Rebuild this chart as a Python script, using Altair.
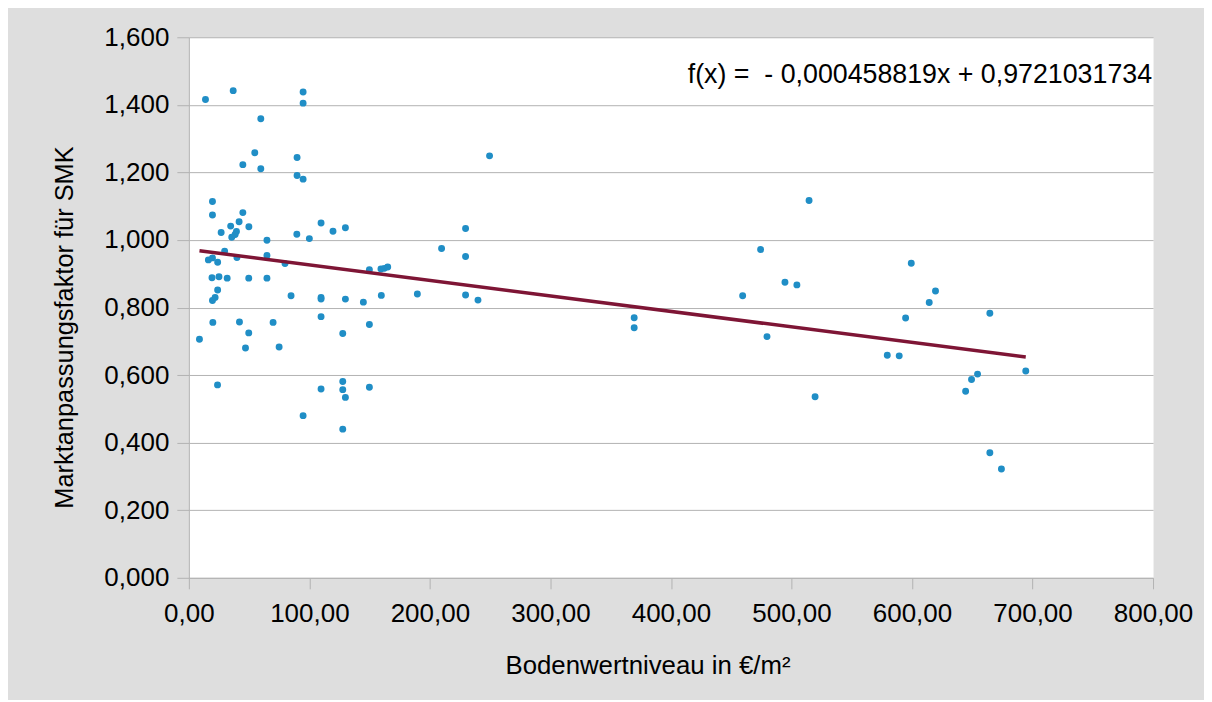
import altair as alt
import pandas as pd

# Bodenwertniveau (EUR/m²) and Marktanpassungsfaktor
bodenwert = [
    13.8, 36.8, 94.8, 94.8, 59.7, 54.7, 44.8, 59.7, 89.8, 89.8, 94.8, 249.5,
    19.6, 19.6, 44.8, 41.7, 34.7, 49.8, 26.8, 39.5, 38.4, 35.6, 64.8, 89.6,
    100.0, 109.7, 119.6, 129.9, 209.7, 229.6, 229.6, 29.7, 64.8, 39.9, 16.2,
    19.6, 23.9, 79.8, 149.8, 159.4, 162.2, 165.0, 19.2, 25.0, 31.8, 49.7,
    64.8, 23.9, 21.8, 19.6, 84.8, 109.7, 109.7, 129.9, 144.8, 159.7, 189.6,
    229.6, 239.9, 19.9, 42.0, 69.9, 109.7, 149.8, 49.7, 127.7, 8.8, 47.0,
    74.9, 23.8, 109.7, 127.7, 127.7, 129.9, 149.8, 94.8, 127.7,
    369.5, 369.5, 514.6, 474.4, 494.6, 504.5, 459.5, 479.7, 519.6, 599.4,
    619.5, 614.3, 594.7, 664.6, 579.5, 589.4, 694.4, 654.4, 649.4, 644.5,
    664.6, 674.2,
]
faktor = [
    1.416, 1.442, 1.438, 1.405, 1.359, 1.258, 1.223, 1.211, 1.244, 1.191, 1.180, 1.249,
    1.114, 1.074, 1.081, 1.054, 1.041, 1.039, 1.022, 1.025, 1.016, 1.008, 0.999, 1.017,
    1.004, 1.050, 1.026, 1.036, 0.975, 1.034, 0.951, 0.967, 0.954, 0.948, 0.941,
    0.947, 0.934, 0.930, 0.912, 0.914, 0.916, 0.920, 0.888, 0.891, 0.887, 0.887,
    0.887, 0.852, 0.830, 0.821, 0.835, 0.830, 0.825, 0.825, 0.816, 0.836, 0.840,
    0.837, 0.822, 0.756, 0.757, 0.756, 0.773, 0.750, 0.725, 0.723, 0.706, 0.680,
    0.683, 0.571, 0.559, 0.581, 0.557, 0.534, 0.564, 0.480, 0.440,
    0.770, 0.740, 1.117, 0.972, 0.875, 0.867, 0.835, 0.714, 0.536, 0.931,
    0.849, 0.815, 0.769, 0.783, 0.659, 0.657, 0.612, 0.603, 0.587, 0.552,
    0.370, 0.322,
]

# linear trend line f(x) = slope * x + intercept
slope = -0.000458819
intercept = 0.9721031734
formula = ["f(x) = \u00a0- 0,000458819x + 0,9721031734"]

x_ticks = [0, 100, 200, 300, 400, 500, 600, 700, 800]
y_ticks = [0.0, 0.2, 0.4, 0.6, 0.8, 1.0, 1.2, 1.4, 1.6]

df = pd.DataFrame({"bw": bodenwert, "maf": faktor})
x_lo, x_hi = min(bodenwert), max(bodenwert)
trend = pd.DataFrame({"bw": [x_lo, x_hi],
                      "maf": [slope * x_lo + intercept, slope * x_hi + intercept]})
ftext = pd.DataFrame({"t": formula})

FONT = "Liberation Sans"
GRID = "#b3b3b3"

x_scale = alt.Scale(domain=[0, 800], nice=False, zero=False)
y_scale = alt.Scale(domain=[0, 1.6], nice=False, zero=False)

x_axis = alt.Axis(
    values=x_ticks,
    labelExpr="replace(format(datum.value, '.2f'), '.', ',')",
    title="Bodenwertniveau in €/m²",
    grid=False,
    domainColor=GRID, tickColor=GRID, tickSize=11,
    labelFont=FONT, labelFontSize=26, labelColor="black", labelPadding=12,
    labelFlush=False, labelOverlap=False,
    titleFont=FONT, titleFontSize=25.8, titleFontWeight="normal", titleColor="black",
    titleX=459, titleY=96, titleBaseline="alphabetic", titleAlign="center",
)
y_axis = alt.Axis(
    values=y_ticks,
    labelExpr="replace(format(datum.value, '.3f'), '.', ',')",
    title="Marktanpassungsfaktor für SMK",
    grid=True, gridColor=GRID, gridWidth=1,
    domainColor=GRID, tickColor=GRID, tickSize=12,
    labelFont=FONT, labelFontSize=26, labelColor="black", labelPadding=8,
    labelFlush=False, labelOverlap=False,
    titleFont=FONT, titleFontSize=25.4, titleFontWeight="normal", titleColor="black",
    titleX=-116, titleY=290, titleAngle=270, titleBaseline="alphabetic", titleAlign="center",
)

points = alt.Chart(df).mark_circle(size=48, color="#208ec6", opacity=1).encode(
    x=alt.X("bw:Q", scale=x_scale, axis=x_axis),
    y=alt.Y("maf:Q", scale=y_scale, axis=y_axis),
)

line = alt.Chart(trend).mark_line(color="#7e1535", strokeWidth=3.5).encode(
    x=alt.X("bw:Q", scale=x_scale),
    y=alt.Y("maf:Q", scale=y_scale),
)

label = alt.Chart(ftext).mark_text(
    align="right", baseline="alphabetic", font=FONT, fontSize=26.8, color="black"
).encode(
    text="t:N",
    x=alt.value(964),
    y=alt.value(46),
)

chart = alt.layer(points, line, label).properties(
    width=965,
    height=541,
    background="#dedede",
    padding={"left": 181, "top": 29, "right": 51, "bottom": 122},
    autosize=alt.AutoSizeParams(type="none"),
).configure_view(
    fill="white", stroke="transparent"
)

chart.save("out.html", embed_options={"renderer": "svg", "actions": False})
